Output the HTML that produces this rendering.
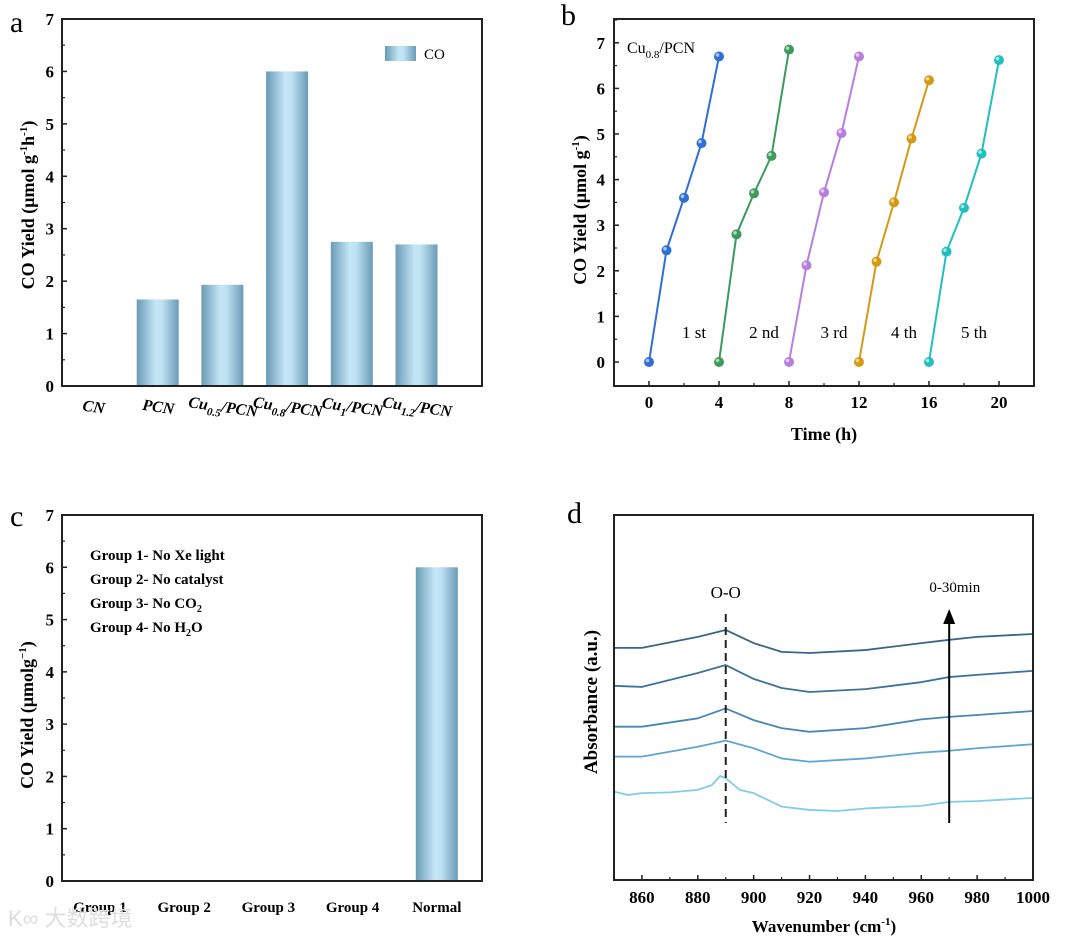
<!DOCTYPE html>
<html><head><meta charset="utf-8"><style>
body{margin:0;background:#fff}
svg{display:block;font-family:"Liberation Serif","Noto Serif CJK SC",serif}
</style></head><body>
<svg id="fig" width="1080" height="940" viewBox="0 0 1080 940" xmlns="http://www.w3.org/2000/svg">
<defs>
<linearGradient id="barg" x1="0" x2="1" y1="0" y2="0">
<stop offset="0" stop-color="#6a9bb6"/><stop offset="0.45" stop-color="#c4e6f6"/><stop offset="0.6" stop-color="#bfe2f3"/><stop offset="1" stop-color="#6a9bb6"/>
</linearGradient>
</defs>
<g id="pa"></g>
<g id="pb"></g>
<g id="pc"></g>
<g id="pd"></g>
<text x="8" y="926" font-size="22" fill="#ddd" font-family="Liberation Sans, Noto Sans CJK SC, sans-serif">K∞ 大数跨境</text>
</svg>
<script>
// Panel a data
const aCats = ["CN","PCN","Cu0.5/PCN","Cu0.8/PCN","Cu1/PCN","Cu1.2/PCN"];
const aVals = [0,1.65,1.93,6.0,2.75,2.7];
const aTicks = [0,1,2,3,4,5,6,7];
// Panel b data
const bTimes = [[0,1,2,3,4],[4,5,6,7,8],[8,9,10,11,12],[12,13,14,15,16],[16,17,18,19,20]];
const bYields = [[0,2.45,3.6,4.8,6.7],[0,2.8,3.7,4.52,6.85],[0,2.12,3.72,5.02,6.7],[0,2.2,3.5,4.9,6.18],[0,2.42,3.38,4.57,6.62]];
const bLabels = ["1 st","2 nd","3 rd","4 th","5 th"];
const bXTicks = [0,4,8,12,16,20];
const bYTicks = [0,1,2,3,4,5,6,7];
// Panel c data
const cCats = ["Group 1","Group 2","Group 3","Group 4","Normal"];
const cVals = [0,0,0,0,6.0];
const cTicks = [0,1,2,3,4,5,6,7];
// Panel d data
const dWaves = [850,860,880,890,900,910,920,940,960,970,980,1000];
const dCurve1 = [63.6,63.6,66.6,68.5,64.9,62.5,62.2,63.0,64.9,65.8,66.6,67.4];
const dCurve2 = [53.2,52.9,56.7,58.9,55.1,52.6,51.5,52.3,54.2,55.6,56.2,57.3];
const dCurve3 = [42.0,42.0,44.3,47.0,43.8,41.6,40.6,41.6,44.0,44.7,45.2,46.3];
const dCurve4 = [33.8,33.8,36.5,38.2,36.1,33.3,32.4,33.3,34.9,35.4,36.1,37.2];
const dWaves5 = [850,855,860,870,880,885,888,890,895,900,910,920,930,940,960,970,980,1000];
const dCurve5 = [24.2,23.3,23.8,24.0,24.7,26.0,28.5,27.9,24.7,23.8,20.1,19.2,18.9,19.6,20.3,21.4,21.6,22.5];
const dXTicks = [860,880,900,920,940,960,980,1000];

const NS="http://www.w3.org/2000/svg";
function mk(parent,tag,attrs,text){const e=document.createElementNS(NS,tag);for(const k in attrs)e.setAttribute(k,attrs[k]);if(text!==undefined)e.textContent=text;parent.appendChild(e);return e;}

// ---------- Panel a ----------
(function(){
const g=document.getElementById('pa');
const L=62,R=482,T=19,B=386;
const y=v=>B-(v/7)*(B-T);
const x=i=>93+i*64.7;
let t=mk(g,'text',{x:10,y:32,'font-size':30});t.textContent='a';

aVals.forEach((v,i)=>{if(v<=0)return;const r=mk(g,'rect',{x:x(i)-21,y:y(v),width:42,height:B-y(v),fill:'url(#barg)'});
});
const ax=mk(g,'rect',{x:L,y:T,width:R-L,height:B-T,fill:'none',stroke:'#222','stroke-width':2});

aTicks.forEach(v=>{mk(g,'line',{x1:L,x2:L+5,y1:y(v),y2:y(v),stroke:'#222','stroke-width':1.5});
if(v<7)mk(g,'line',{x1:L,x2:L+3,y1:y(v+0.5),y2:y(v+0.5),stroke:'#222','stroke-width':1.2});
const tl=mk(g,'text',{x:54,y:y(v)+6,'font-size':17,'font-weight':'bold','text-anchor':'end'},String(v));
});
const ttl=mk(g,'text',{transform:'translate(34,205) rotate(-90)','font-size':18,'font-weight':'bold','text-anchor':'middle'});
ttl.innerHTML='CO Yield (μmol g<tspan dy="-7" font-size="11">-1</tspan><tspan dy="7">h</tspan><tspan dy="-7" font-size="11">-1</tspan><tspan dy="7">)</tspan>';

const subs=[null,null,'0.5','0.8','1','1.2'];
aCats.forEach((c,i)=>{const cx=x(i);const lab=mk(g,'text',{transform:`translate(${cx},412) rotate(8)`,'font-size':16,'font-weight':'bold','font-style':'italic','text-anchor':'middle'});
if(subs[i]) lab.innerHTML=`Cu<tspan dy="5" font-size="11">${subs[i]}</tspan><tspan dy="-5">/PCN</tspan>`; else lab.textContent=c;
});
const lg=mk(g,'rect',{x:385,y:46,width:31,height:15,fill:'url(#barg)'});

const lt=mk(g,'text',{x:424,y:59,'font-size':15},'CO');

})();

// ---------- Panel b ----------
(function(){
const g=document.getElementById('pb');
const L=614,R=1034,T=19,B=386;
const x=v=>649+v*17.5;
const y=v=>362-v*45.6;
const colors=['#2e6fd6','#3c9a5c','#b77ee0','#d49a14','#22bfbf'];
let t=mk(g,'text',{x:561,y:25,'font-size':30},'b');

const ax=mk(g,'rect',{x:L,y:T,width:R-L,height:B-T,fill:'none',stroke:'#222','stroke-width':2});

bYTicks.forEach(v=>{mk(g,'line',{x1:L,x2:L+5,y1:y(v),y2:y(v),stroke:'#222','stroke-width':1.5});
mk(g,'line',{x1:L,x2:L+3,y1:y(v+0.5),y2:y(v+0.5),stroke:'#222','stroke-width':1.2});
const tl=mk(g,'text',{x:605,y:y(v)+6,'font-size':17,'font-weight':'bold','text-anchor':'end'},String(v));
});
bXTicks.forEach(v=>{mk(g,'line',{x1:x(v),x2:x(v),y1:B,y2:B-5,stroke:'#222','stroke-width':1.5});
if(v<20)mk(g,'line',{x1:x(v+2),x2:x(v+2),y1:B,y2:B-3,stroke:'#222','stroke-width':1.2});
const tl=mk(g,'text',{x:x(v),y:408,'font-size':17,'font-weight':'bold','text-anchor':'middle'},String(v));
});
const xt=mk(g,'text',{x:824,y:440,'font-size':18,'font-weight':'bold','text-anchor':'middle'},'Time (h)');

const yt=mk(g,'text',{transform:'translate(586,210) rotate(-90)','font-size':18,'font-weight':'bold','text-anchor':'middle'});
yt.innerHTML='CO Yield (μmol g<tspan dy="-7" font-size="11">-1</tspan><tspan dy="7">)</tspan>';

const nt=mk(g,'text',{x:627,y:53,'font-size':16});
nt.innerHTML='Cu<tspan dy="5" font-size="11">0.8</tspan><tspan dy="-5">/PCN</tspan>';

bTimes.forEach((ts,s)=>{
const pts=ts.map((tv,i)=>x(tv)+','+y(bYields[s][i])).join(' ');
const pl=mk(g,'polyline',{points:pts,fill:'none',stroke:colors[s],'stroke-width':2});

ts.forEach((tv,i)=>{const c=mk(g,'circle',{cx:x(tv),cy:y(bYields[s][i]),r:5,fill:colors[s]});

mk(g,'circle',{cx:x(tv)-1.5,cy:y(bYields[s][i])-1.5,r:1.8,fill:'#fff','fill-opacity':0.6});});
const lb=mk(g,'text',{x:x(ts[0])+45,y:338,'font-size':17,'text-anchor':'middle'},bLabels[s]);

});
})();

// ---------- Panel c ----------
(function(){
const g=document.getElementById('pc');
const L=62,R=482,T=515,B=881;
const y=v=>B-(v/7)*(B-T);
const x=i=>100+i*84.2;
let t=mk(g,'text',{x:10,y:526,'font-size':30},'c');

cVals.forEach((v,i)=>{if(v<=0)return;const r=mk(g,'rect',{x:x(i)-21,y:y(v),width:42,height:B-y(v),fill:'url(#barg)'});
});
const ax=mk(g,'rect',{x:L,y:T,width:R-L,height:B-T,fill:'none',stroke:'#222','stroke-width':2});

cTicks.forEach(v=>{mk(g,'line',{x1:L,x2:L+5,y1:y(v),y2:y(v),stroke:'#222','stroke-width':1.5});
if(v<7)mk(g,'line',{x1:L,x2:L+3,y1:y(v+0.5),y2:y(v+0.5),stroke:'#222','stroke-width':1.2});
const tl=mk(g,'text',{x:54,y:y(v)+6,'font-size':17,'font-weight':'bold','text-anchor':'end'},String(v));
});
cCats.forEach((c,i)=>{const tl=mk(g,'text',{x:x(i),y:912,'font-size':15,'font-weight':'bold','text-anchor':'middle'},c);
});
const yt=mk(g,'text',{transform:'translate(33,715) rotate(-90)','font-size':18,'font-weight':'bold','text-anchor':'middle'});
yt.innerHTML='CO Yield (μmolg<tspan dy="-7" font-size="11">−1</tspan><tspan dy="7">)</tspan>';

const notes=['Group 1- No Xe light','Group 2- No catalyst','Group 3- No CO<tspan dy="4" font-size="10">2</tspan>','Group 4- No H<tspan dy="4" font-size="10">2</tspan><tspan dy="-4">O</tspan>'];
notes.forEach((n,i)=>{const e=mk(g,'text',{x:90,y:560+i*24,'font-size':15,'font-weight':'bold'});e.innerHTML=n;
});
})();

// ---------- Panel d ----------
(function(){
const g=document.getElementById('pd');
const L=614,R=1033,T=515,B=880;
const x=w=>L+(w-850)/150*(R-L);
const y=v=>B-v*3.65;
let t=mk(g,'text',{x:567,y:523,'font-size':30},'d');

const curves=[[dWaves,dCurve1,'#3a6587'],[dWaves,dCurve2,'#3e729b'],[dWaves,dCurve3,'#4787b3'],[dWaves,dCurve4,'#5ea6cf'],[dWaves5,dCurve5,'#7fcde6']];
curves.forEach((c,k)=>{const pts=c[0].map((w,i)=>x(w)+','+y(c[1][i])).join(' ');
const pl=mk(g,'polyline',{points:pts,fill:'none',stroke:c[2],'stroke-width':1.8,'stroke-linejoin':'round'});
});
const ax=mk(g,'rect',{x:L,y:T,width:R-L,height:B-T,fill:'none',stroke:'#222','stroke-width':2});

dXTicks.forEach(w=>{mk(g,'line',{x1:x(w),x2:x(w),y1:B,y2:B-5,stroke:'#222','stroke-width':1.5});
mk(g,'line',{x1:x(w-10),x2:x(w-10),y1:B,y2:B-3,stroke:'#222','stroke-width':1.2});
const tl=mk(g,'text',{x:x(w),y:903,'font-size':17,'font-weight':'bold','text-anchor':'middle'},String(w));
});
const xt=mk(g,'text',{x:824,y:932,'font-size':17,'font-weight':'bold','text-anchor':'middle'});
xt.innerHTML='Wavenumber (cm<tspan dy="-7" font-size="11">-1</tspan><tspan dy="7">)</tspan>';

const yt=mk(g,'text',{transform:'translate(597,702) rotate(-90)','font-size':19,'font-weight':'bold','text-anchor':'middle'},'Absorbance (a.u.)');

const dl=mk(g,'line',{x1:x(890),x2:x(890),y1:614,y2:823,stroke:'#222','stroke-width':2,'stroke-dasharray':'8,5'});

const oo=mk(g,'text',{x:x(890),y:598,'font-size':17,'text-anchor':'middle'},'O-O');

const ar=mk(g,'line',{x1:x(970),x2:x(970),y1:823,y2:622,stroke:'#000','stroke-width':2});

mk(g,'polygon',{points:`${x(970)-6},624 ${x(970)+6},624 ${x(970)},609`,fill:'#000'});
const tl=mk(g,'text',{x:x(972),y:592,'font-size':15,'text-anchor':'middle'},'0-30min');

})();
</script>
</body></html>
